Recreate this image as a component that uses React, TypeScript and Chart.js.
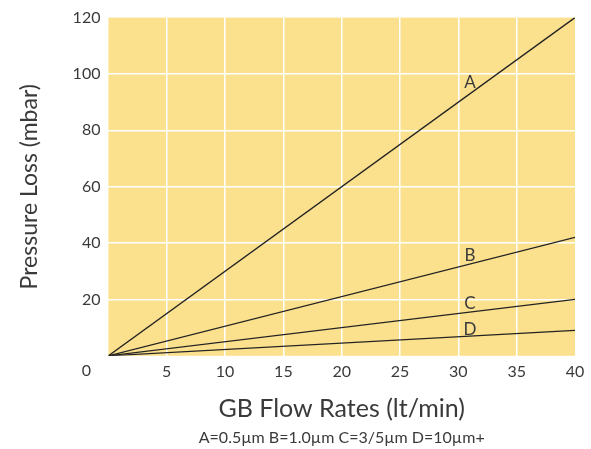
import React, { useEffect, useRef } from "react";
import { Chart, registerables } from "chart.js";

Chart.register(...registerables);

const flowRates = [0, 40];
const seriesA = [0, 120];
const seriesB = [0, 42];
const seriesC = [0, 20];
const seriesD = [0, 9];
const seriesNames = ["A", "B", "C", "D"];
const labelX = [31, 31, 31, 31];
const labelY = [97, 35.5, 18.5, 9.5];
const xTitle = "GB Flow Rates (lt/min)";
const yTitle = "Pressure Loss (mbar)";
const footnote = "A=0.5µm B=1.0µm C=3/5µm D=10µm+";

const FONT = "Lato, 'Noto Sans', sans-serif";
const TEXT = "#3a3a3a";

export default function App() {
  const ref = useRef<HTMLCanvasElement>(null);
  useEffect(() => {
    document.body.style.margin = "0";
    const all = [seriesA, seriesB, seriesC, seriesD];
    const bgPlugin = {
      id: "bg",
      beforeDraw(chart: any) {
        const { ctx, chartArea: a } = chart;
        ctx.save();
        ctx.fillStyle = "#FBE08E";
        ctx.fillRect(a.left, a.top, a.right - a.left, a.bottom - a.top);
        ctx.restore();
      },
      afterDraw(chart: any) {
        const { ctx, chartArea: a, scales } = chart;
        ctx.save();
        ctx.fillStyle = TEXT;
        ctx.font = `17px ${FONT}`;
        ctx.textAlign = "center";
        ctx.textBaseline = "middle";
        seriesNames.forEach((n, i) => {
          ctx.fillText(n, scales.x.getPixelForValue(labelX[i]), scales.y.getPixelForValue(labelY[i]));
        });
        ctx.font = `16px ${FONT}`;
        ctx.fillText("0", a.left - 22, a.bottom + 15);
        ctx.font = `16px ${FONT}`;
        ctx.fillText(footnote, (a.left + a.right) / 2, chart.height - 11);
        ctx.restore();
      },
    };
    const chart = new Chart(ref.current!, {
      type: "line",
      data: {
        datasets: all.map((s, i) => ({
          label: seriesNames[i],
          data: flowRates.map((x, j) => ({ x, y: s[j] })),
          borderColor: "#222",
          borderWidth: 1.3,
          pointRadius: 0,
          fill: false,
        })),
      },
      options: {
        responsive: false,
        animation: false,
        layout: { padding: { top: 8, right: 16, left: 16, bottom: 21 } },
        plugins: {
          legend: { display: false },
          tooltip: { enabled: false },
        },
        scales: {
          x: {
            type: "linear",
            min: 0,
            max: 40,
            border: { display: false },
            grid: {
              drawTicks: false,
              lineWidth: 1.5,
              color: (c: any) => (c.index === 0 || c.index === 8 ? "rgba(0,0,0,0)" : "#ffffff"),
            },
            ticks: {
              stepSize: 5,
              padding: 6,
              color: TEXT,
              font: { family: FONT, size: 16 },
              callback: (v: any) => (v === 0 ? "" : String(v)),
            },
            title: {
              display: true,
              text: xTitle,
              color: TEXT,
              font: { family: FONT, size: 25 },
              padding: { top: 7, bottom: 4 },
            },
          },
          y: {
            min: 0,
            max: 120,
            border: { display: false },
            grid: {
              drawTicks: false,
              lineWidth: 1.5,
              color: (c: any) => (c.index === 0 || c.index === 6 ? "rgba(0,0,0,0)" : "#ffffff"),
            },
            ticks: {
              stepSize: 20,
              padding: 8,
              color: TEXT,
              font: { family: FONT, size: 16 },
              callback: (v: any) => (v === 0 ? "" : String(v)),
            },
            title: {
              display: true,
              text: yTitle,
              color: TEXT,
              font: { family: FONT, size: 23 },
              padding: { top: 0, bottom: 21 },
            },
          },
        },
      },
      plugins: [bgPlugin],
    });
    return () => chart.destroy();
  }, []);
  return (
    <div style={{ width: 591, height: 449 }}>
      <canvas ref={ref} width={591} height={449} />
    </div>
  );
}
